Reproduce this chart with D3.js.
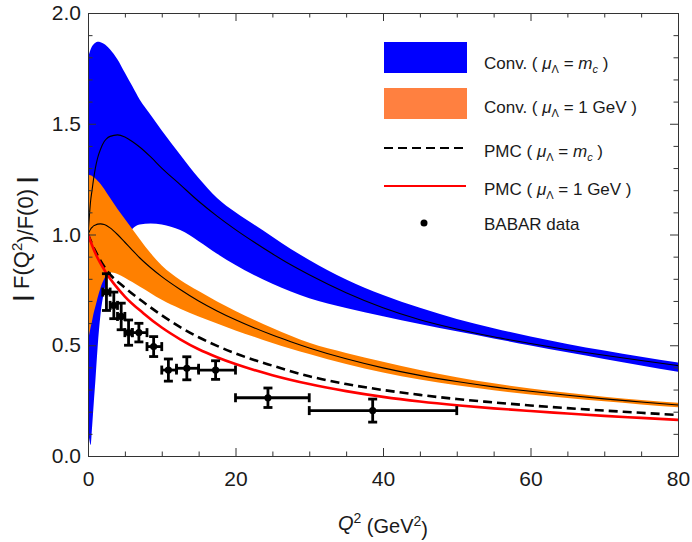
<!DOCTYPE html>
<html><head><meta charset="utf-8">
<script src="https://cdn.jsdelivr.net/npm/d3@7/dist/d3.min.js"></script>
<style>
body{margin:0;background:#fff}
text{font-family:"Liberation Sans",Arial,Helvetica,sans-serif;fill:#1a1a1a}
</style>
</head><body>
<svg id="chart" width="692" height="542"></svg>
<script>
// ---- data ----
const qBand = [0,0.2,0.35,0.55,0.8,1,1.3,1.7,2.2,2.5,3,4,5,6,7,8.5,10,12.5,15,17.5,20,22.5,25,27.5,30,35,40,45,50,55,60,65,70,75,80];
const convMcUpper = [1.80,1.82,1.835,1.85,1.86,1.866,1.87,1.868,1.86,1.852,1.835,1.79,1.73,1.67,1.61,1.54,1.47,1.36,1.255,1.165,1.10,1.045,0.99,0.935,0.885,0.797,0.727,0.669,0.619,0.577,0.54,0.506,0.476,0.448,0.422];
const convMcCentral = [1.0,1.09,1.15,1.2,1.26,1.3,1.345,1.385,1.42,1.432,1.443,1.45,1.44,1.42,1.395,1.35,1.30,1.225,1.15,1.083,1.022,0.966,0.913,0.863,0.818,0.737,0.669,0.615,0.573,0.538,0.508,0.48,0.455,0.431,0.408];
const convMcLower = [0.12,0.07,0.05,0.13,0.25,0.34,0.49,0.64,0.745,0.79,0.845,0.925,0.985,1.025,1.045,1.05,1.045,1.02,0.97,0.913,0.862,0.817,0.778,0.743,0.712,0.668,0.631,0.596,0.563,0.531,0.499,0.468,0.438,0.409,0.38];
const conv1Upper = [1.27,1.269,1.267,1.264,1.258,1.253,1.243,1.228,1.205,1.19,1.165,1.115,1.07,1.025,0.98,0.915,0.86,0.795,0.745,0.698,0.655,0.615,0.578,0.543,0.511,0.465,0.425,0.388,0.355,0.328,0.305,0.285,0.268,0.253,0.24];
const conv1Central = [1.0,1.015,1.024,1.032,1.04,1.043,1.047,1.048,1.045,1.041,1.03,1.0,0.965,0.93,0.895,0.85,0.81,0.752,0.70,0.655,0.615,0.579,0.546,0.516,0.488,0.439,0.398,0.364,0.336,0.312,0.292,0.274,0.258,0.244,0.23];
const conv1Lower = [0.52,0.555,0.58,0.61,0.65,0.675,0.715,0.76,0.80,0.818,0.83,0.822,0.805,0.785,0.765,0.735,0.705,0.665,0.63,0.598,0.567,0.538,0.51,0.484,0.46,0.415,0.377,0.345,0.319,0.297,0.278,0.262,0.247,0.233,0.22];

const qLine = [0,1,2.5,5,7.5,10,12.5,15,17.5,20,25,30,35,40,45,50,55,60,65,70,75,80];
const pmcMc = [1.0,0.925,0.84,0.76,0.695,0.635,0.582,0.536,0.497,0.463,0.408,0.36,0.325,0.298,0.276,0.257,0.242,0.228,0.216,0.205,0.195,0.185];
const pmc1 = [1.0,0.915,0.825,0.72,0.645,0.58,0.527,0.482,0.446,0.415,0.365,0.325,0.293,0.267,0.246,0.229,0.215,0.203,0.192,0.181,0.172,0.163];

const babarQ = [2.5,3.5,4.5,5.5,6.9,8.9,10.9,13.4,17.3,24.4,38.6];
const babarQlo = [2,3,4,5,6,8,10,12,15,20,30];
const babarQhi = [3,4,5,6,8,10,12,15,20,30,50];
const babarF = [0.74,0.68,0.63,0.557,0.557,0.494,0.388,0.396,0.388,0.263,0.205];
const babarErr = [0.083,0.06,0.06,0.057,0.042,0.045,0.05,0.052,0.042,0.044,0.052];

const xMajor = [0,20,40,60,80];
const yMajor = [0,0.5,1.0,1.5,2.0];

// ---- layout ----
const svg = d3.select("#chart");
const L=88, R=678, T=13, B=456;
const x = d3.scaleLinear().domain([0,80]).range([L,R]);
const y = d3.scaleLinear().domain([0,2]).range([B,T]);

svg.append("defs").append("clipPath").attr("id","clip")
  .append("rect").attr("x",L).attr("y",T).attr("width",R-L).attr("height",B-T);
const plot = svg.append("g").attr("clip-path","url(#clip)");

function band(lo, hi){
  return d3.area().x((d,i)=>x(qBand[i])).y0((d,i)=>y(lo[i])).y1((d,i)=>y(hi[i])).curve(d3.curveMonotoneX)(qBand);
}
function line(qs, vs){
  return d3.line().x((d,i)=>x(qs[i])).y((d,i)=>y(vs[i])).curve(d3.curveMonotoneX)(qs);
}
plot.append("path").attr("d",band(convMcLower,convMcUpper)).attr("fill","#0000ff");
plot.append("path").attr("d",band(conv1Lower,conv1Upper)).attr("fill","#ff8000");
plot.append("path").attr("d",line(qBand,convMcCentral)).attr("fill","none").attr("stroke","#000").attr("stroke-width",1.1);
plot.append("path").attr("d",line(qBand,conv1Central)).attr("fill","none").attr("stroke","#000").attr("stroke-width",1.1);
plot.append("path").attr("d",line(qLine,pmcMc)).attr("fill","none").attr("stroke","#000").attr("stroke-width",2.6).attr("stroke-dasharray","9,5");
plot.append("path").attr("d",line(qLine,pmc1)).attr("fill","none").attr("stroke","#ff0000").attr("stroke-width",2.6);

// data points
const pts = plot.append("g").attr("stroke","#000").attr("stroke-width",2.8);
babarQ.forEach((q,i)=>{
  const cx=x(q), cy=y(babarF[i]);
  const yt=y(babarF[i]+babarErr[i]), yb=y(babarF[i]-babarErr[i]);
  const xl=x(babarQlo[i]), xr=x(babarQhi[i]);
  pts.append("line").attr("x1",xl).attr("x2",xr).attr("y1",cy).attr("y2",cy);
  pts.append("line").attr("x1",xl).attr("x2",xl).attr("y1",cy-4.5).attr("y2",cy+4.5);
  pts.append("line").attr("x1",xr).attr("x2",xr).attr("y1",cy-4.5).attr("y2",cy+4.5);
  pts.append("line").attr("x1",cx).attr("x2",cx).attr("y1",yt).attr("y2",yb);
  pts.append("line").attr("x1",cx-4.5).attr("x2",cx+4.5).attr("y1",yt).attr("y2",yt);
  pts.append("line").attr("x1",cx-4.5).attr("x2",cx+4.5).attr("y1",yb).attr("y2",yb);
  plot.append("circle").attr("cx",cx).attr("cy",cy).attr("r",3.6).attr("fill","#000");
});

// ---- axes (frame with inward ticks) ----
const frameColor="#333";
function styleAxis(g){
  g.selectAll("path.domain").attr("stroke",frameColor).attr("stroke-width",1);
  g.selectAll(".tick line").attr("stroke",frameColor).attr("stroke-width",1);
  g.selectAll("text").style("font-size","21px").attr("fill","#1a1a1a").style("font-family","'Liberation Sans',Arial,sans-serif");
}
const xMinor = d3.range(0,81,5).filter(v=>!xMajor.includes(v));
const yMinor = d3.range(0,20.5,1).map(v=>v/10).filter(v=>!yMajor.some(m=>Math.abs(m-v)<1e-9));

// bottom
svg.append("g").attr("transform",`translate(0,${B})`)
  .call(d3.axisBottom(x).tickValues(xMinor).tickSizeInner(-4.5).tickSizeOuter(0).tickFormat(""))
  .call(styleAxis);
svg.append("g").attr("transform",`translate(0,${B})`)
  .call(d3.axisBottom(x).tickValues(xMajor).tickSizeInner(-8).tickSizeOuter(0).tickPadding(15).tickFormat(d3.format("d")))
  .call(styleAxis);
// top
svg.append("g").attr("transform",`translate(0,${T})`)
  .call(d3.axisTop(x).tickValues(xMinor).tickSizeInner(-4.5).tickSizeOuter(0).tickFormat(""))
  .call(styleAxis);
svg.append("g").attr("transform",`translate(0,${T})`)
  .call(d3.axisTop(x).tickValues(xMajor).tickSizeInner(-8).tickSizeOuter(0).tickFormat(""))
  .call(styleAxis);
// left
svg.append("g").attr("transform",`translate(${L},0)`)
  .call(d3.axisLeft(y).tickValues(yMinor).tickSizeInner(-4.5).tickSizeOuter(0).tickFormat(""))
  .call(styleAxis);
svg.append("g").attr("transform",`translate(${L},0)`)
  .call(d3.axisLeft(y).tickValues(yMajor).tickSizeInner(-8).tickSizeOuter(0).tickPadding(7).tickFormat(d3.format(".1f")))
  .call(styleAxis);
// right
svg.append("g").attr("transform",`translate(${R},0)`)
  .call(d3.axisRight(y).tickValues(yMinor).tickSizeInner(-4.5).tickSizeOuter(0).tickFormat(""))
  .call(styleAxis);
svg.append("g").attr("transform",`translate(${R},0)`)
  .call(d3.axisRight(y).tickValues(yMajor).tickSizeInner(-8).tickSizeOuter(0).tickFormat(""))
  .call(styleAxis);

// ---- axis titles ----
const xt = svg.append("text").attr("x",383).attr("y",530).attr("text-anchor","middle").style("font-size","20px");
xt.append("tspan").style("font-style","italic").text("Q");
xt.append("tspan").attr("dy","-0.5em").style("font-size","14px").text("2");
xt.append("tspan").attr("dy","0.5em").text(" (GeV");
xt.append("tspan").attr("dy","-0.5em").style("font-size","14px").text("2");
xt.append("tspan").attr("dy","0.5em").text(")");

const yt = svg.append("text").attr("transform","translate(29,239) rotate(-90)").attr("text-anchor","middle").style("font-size","22px");
yt.append("tspan").style("font-weight","bold").text("|");
yt.append("tspan").text(" F(Q");
yt.append("tspan").attr("dy","-0.5em").style("font-size","15px").text("2");
yt.append("tspan").attr("dy","0.5em").text(")/F(0) ");
yt.append("tspan").style("font-weight","bold").text("|");

// ---- legend ----
const lg = svg.append("g");
const fs = "17px";
function legText(yb, head, tail){
  const t = lg.append("text").attr("x",484).attr("y",yb).style("font-size",fs);
  t.append("tspan").text(head+" ( ");
  t.append("tspan").style("font-style","italic").text("μ");
  t.append("tspan").attr("dy","4").style("font-size","11px").text("Λ");
  t.append("tspan").attr("dy","-4").text(" = ");
  if(tail==="mc"){
    t.append("tspan").style("font-style","italic").text("m");
    t.append("tspan").attr("dy","4").style("font-size","11px").style("font-style","italic").text("c");
    t.append("tspan").attr("dy","-4").text(" )");
  } else {
    t.append("tspan").text("1 GeV )");
  }
}
lg.append("rect").attr("x",384).attr("y",42).attr("width",83).attr("height",31).attr("fill","#0000ff");
legText(69,"Conv.","mc");
lg.append("rect").attr("x",384).attr("y",88).attr("width",83).attr("height",31).attr("fill","#ff8040");
legText(113,"Conv.","1");
lg.append("line").attr("x1",384).attr("x2",466).attr("y1",148).attr("y2",148).attr("stroke","#000").attr("stroke-width",2).attr("stroke-dasharray","9,5");
legText(157,"PMC","mc");
lg.append("line").attr("x1",384).attr("x2",466).attr("y1",186).attr("y2",186).attr("stroke","#ff0000").attr("stroke-width",2);
legText(195,"PMC","1");
lg.append("circle").attr("cx",424).attr("cy",223).attr("r",3.5).attr("fill","#000");
lg.append("text").attr("x",484).attr("y",230).style("font-size",fs).text("BABAR data");
</script>
</body></html>
